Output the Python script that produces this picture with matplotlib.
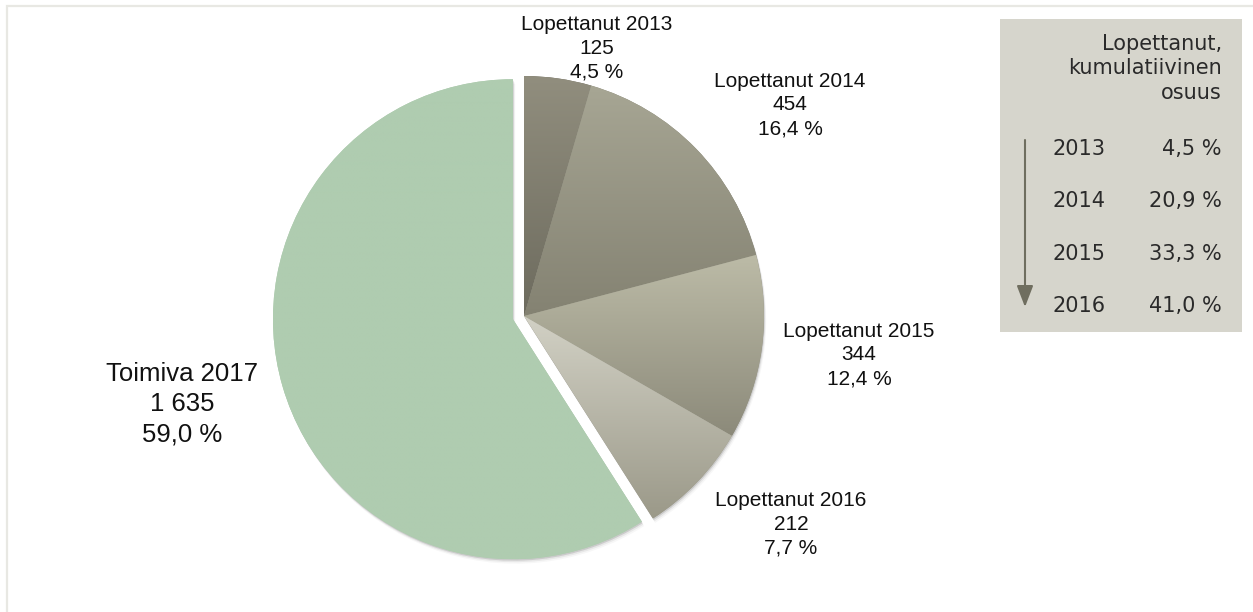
import numpy as np
import matplotlib
matplotlib.use('Agg')
import matplotlib.pyplot as plt
from matplotlib.patches import Wedge, Rectangle
from matplotlib.colors import to_rgb

# Data
categories = ['Lopettanut 2013', 'Lopettanut 2014', 'Lopettanut 2015',
              'Lopettanut 2016', 'Toimiva 2017']
counts = [125, 454, 344, 212, 1635]
shares = [4.5, 16.4, 12.4, 7.7, 59.0]

cum_years = ['2013', '2014', '2015', '2016']
cum_shares = [4.5, 20.9, 33.3, 41.0]
cum_title = ['Lopettanut,', 'kumulatiivinen', 'osuus']

# Slice colours (gradient top -> bottom)
grad_top = ['#918e7e', '#a7a694', '#bcbba7', '#d2d1c5', '#afccb0']
grad_bot = ['#6d6b5e', '#848272', '#8c8a7a', '#9b9989', '#afccb0']

# Layout in pixel units (y measured upwards)
W, H = 1253, 612
cx, cy, R = 524, H - 316, 240
explode = [0, 0, 0, 0, 11.5]

label_pos = [(597, H - 48), (790, H - 105), (859, H - 355),
             (791, H - 524), (182, H - 404)]
label_size = [15, 15, 15, 15, 18.5]

fig = plt.figure(figsize=(W / 100, H / 100), dpi=100)
ax = fig.add_axes([0, 0, 1, 1])

wedges, _ = ax.pie(counts, startangle=90, counterclock=False, radius=R,
                   center=(cx, cy), explode=explode, colors=grad_bot)

# soft shadows under the slices
for w in wedges:
    for off, a in [(1.5, 0.12), (3.0, 0.06), (4.5, 0.03)]:
        sh = Wedge((w.center[0] + off * 0.5, w.center[1] - off), w.r,
                   w.theta1, w.theta2, color='black', alpha=a, lw=0, zorder=0.5)
        ax.add_patch(sh)

# vertical gradient fill per slice
for w, ctop, cbot in zip(wedges, grad_top, grad_bot):
    ext = w.get_path().get_extents()
    t = np.linspace(0, 1, 256)[:, None]
    c0, c1 = np.array(to_rgb(ctop)), np.array(to_rgb(cbot))
    img = (1 - t)[:, :, None] * c0 + t[:, :, None] * c1
    img = np.repeat(img, 2, axis=1)
    im = ax.imshow(img, extent=(ext.x0, ext.x1, ext.y0, ext.y1),
                   origin='upper', aspect='auto', interpolation='bilinear',
                   zorder=2)
    im.set_clip_path(w)

# slice labels
for cat, n, s, (lx, ly), fs in zip(categories, counts, shares, label_pos, label_size):
    txt = '{}\n{}\n{} %'.format(cat, '{:,}'.format(n).replace(',', ' '),
                                '{:.1f}'.format(s).replace('.', ','))
    ax.text(lx, ly, txt, ha='center', va='center', fontsize=fs,
            family='Liberation Sans', color='#111111', linespacing=1.33,
            zorder=5)

# outer frame (cropped on right and bottom)
ax.plot([7, 7, W + 5], [-5, H - 6, H - 6], color='#e8e8e3', lw=1.6,
        solid_joinstyle='miter', zorder=0)

# cumulative share box
box_font = dict(fontsize=15, family='DejaVu Sans', color='#2a2a2a', zorder=5)
ax.add_patch(Rectangle((1000, H - 332), 242, 313, facecolor='#d6d5cc',
                       edgecolor='none', zorder=1))
for i, line in enumerate(cum_title):
    ax.text(1222, H - 44 - i * 24.5, line, ha='right', va='center', **box_font)
for i, (yr, v) in enumerate(zip(cum_years, cum_shares)):
    yy = H - 149 - i * 52.3
    ax.text(1052, yy, yr, ha='left', va='center', **box_font)
    ax.text(1222, yy, '{:.1f} %'.format(v).replace('.', ','), ha='right',
            va='center', **box_font)
ax.annotate('', xy=(1025, H - 307), xytext=(1025, H - 140),
            arrowprops=dict(arrowstyle='-|>,head_width=0.5,head_length=1.3',
                            color='#6f6e5f', lw=1.5, shrinkA=0, shrinkB=0),
            zorder=5)

ax.set_xlim(0, W)
ax.set_ylim(0, H)
ax.set_aspect('auto')
ax.axis('off')

fig.savefig('out.png', dpi=100, facecolor='white')
